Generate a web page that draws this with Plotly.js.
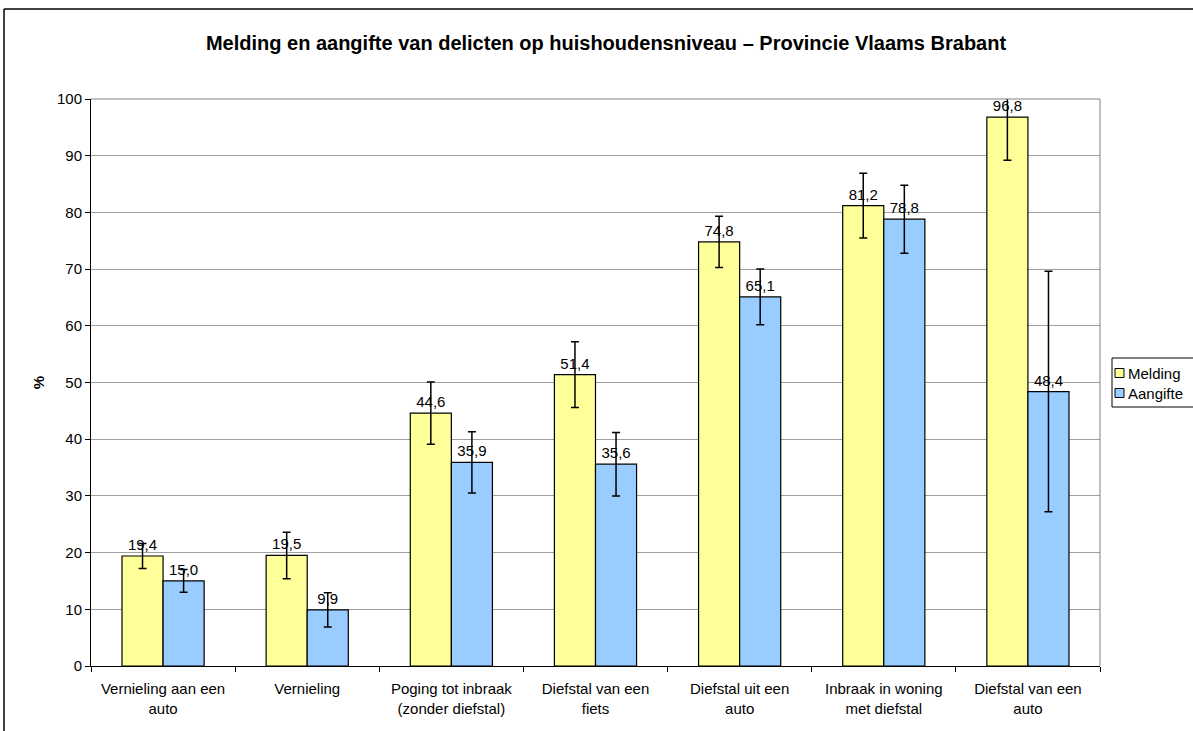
<!DOCTYPE html>
<html>
<head>
<meta charset="utf-8">
<script src="https://cdn.plot.ly/plotly-3.0.1.min.js"></script>
<style>
  html, body { margin: 0; padding: 0; background: #fff; }
  #chart { width: 1193px; height: 731px; }
</style>
</head>
<body>
<div id="chart"></div>
<script>
const categories = [
  "Vernieling aan een<br>auto",
  "Vernieling",
  "Poging tot inbraak<br>(zonder diefstal)",
  "Diefstal van een<br>fiets",
  "Diefstal uit een<br>auto",
  "Inbraak in woning<br>met diefstal",
  "Diefstal van een<br>auto"
];
const seriesNames = ["Melding", "Aangifte"];
const seriesColors = ["#FFFF99", "#99CCFF"];
const meldingValues = [19.4, 19.5, 44.6, 51.4, 74.8, 81.2, 96.8];
const meldingErrPlus = [2.2, 4.1, 5.5, 5.8, 4.5, 5.7, 4.0];
const meldingErrMinus = [2.2, 4.1, 5.5, 5.8, 4.5, 5.7, 7.6];
const aangifteValues = [15.0, 9.9, 35.9, 35.6, 65.1, 78.8, 48.4];
const aangifteErr = [2.0, 3.0, 5.4, 5.6, 4.9, 6.0, 21.2];
const yTicks = [0, 10, 20, 30, 40, 50, 60, 70, 80, 90, 100];

const FONT = "Liberation Sans, Arial, sans-serif";

const common = {
  type: "bar",
  x: categories,
  texttemplate: "%{y:.1f}",
  textposition: "outside",
  cliponaxis: false,
  textfont: {family: FONT, size: 15, color: "#000"},
  hoverinfo: "y",
  showlegend: false
};

const traces = [
  Object.assign({}, common, {
    name: seriesNames[0],
    y: meldingValues,
    marker: {color: seriesColors[0], line: {color: "#000", width: 1.2}},
    error_y: {type: "data", symmetric: false, array: meldingErrPlus, arrayminus: meldingErrMinus,
              color: "#000", thickness: 1.5, width: 4}
  }),
  Object.assign({}, common, {
    name: seriesNames[1],
    y: aangifteValues,
    marker: {color: seriesColors[1], line: {color: "#000", width: 1.2}},
    error_y: {type: "data", array: aangifteErr, color: "#000", thickness: 1.5, width: 4}
  })
];

// Plot area in pixels: x 91..1100, y 99..666
const L = 91, R = 1100, T = 99, B = 666;
const px = v => (v - L) / (R - L);
const py = v => (B - v) / (B - T);

// Manual legend (box partly outside the picture, as in the reference)
const legendShapes = [
  {type: "rect", xref: "paper", yref: "paper", x0: px(1112), x1: px(1260), y0: py(407), y1: py(358),
   line: {color: "#000", width: 1}, fillcolor: "#fff", layer: "above"}
];
const legendAnnots = [];
seriesNames.forEach((name, i) => {
  const cy = 373 + i * 20;
  legendShapes.push({type: "rect", xref: "paper", yref: "paper",
    x0: px(1115), x1: px(1124), y0: py(cy + 4.5), y1: py(cy - 4.5),
    line: {color: "#000", width: 1}, fillcolor: seriesColors[i], layer: "above"});
  legendAnnots.push({xref: "paper", yref: "paper", x: px(1126), y: py(cy), xanchor: "left", yanchor: "middle",
    text: name, showarrow: false, font: {family: FONT, size: 15, color: "#000"}});
});

const layout = {
  width: 1193,
  height: 731,
  margin: {l: L, r: 1193 - R, t: T, b: 731 - B, autoexpand: false},
  paper_bgcolor: "#fff",
  plot_bgcolor: "#fff",
  separators: ",.",
  font: {family: FONT, size: 15, color: "#000"},
  title: {
    text: "<b>Melding en aangifte van delicten op huishoudensniveau – Provincie Vlaams Brabant</b>",
    font: {family: FONT, size: 20, color: "#000"},
    x: 606 / 1193, xref: "container", xanchor: "center",
    y: 1 - 43 / 731, yref: "container", yanchor: "middle"
  },
  barmode: "group",
  bargap: 0.43,
  bargroupgap: 0,
  xaxis: {
    type: "category",
    tickson: "boundaries",
    ticks: "outside",
    ticklen: 5,
    tickcolor: "#000",
    ticklabelstandoff: 9,
    showline: true,
    linecolor: "#000",
    linewidth: 1,
    showgrid: false,
    tickfont: {family: FONT, size: 15, color: "#000"},
    automargin: false
  },
  yaxis: {
    range: [0, 100],
    tickvals: yTicks,
    ticks: "outside",
    ticklen: 5,
    tickcolor: "#000",
    showline: true,
    linecolor: "#000",
    linewidth: 1,
    showgrid: true,
    gridcolor: "#a0a0a0",
    gridwidth: 1,
    zeroline: false,
    tickfont: {family: FONT, size: 15, color: "#000"},
    title: {text: "<b>%</b>", font: {family: FONT, size: 15, color: "#000"}, standoff: 8},
    automargin: false
  },
  showlegend: false,
  annotations: legendAnnots,
  shapes: [
    {type: "line", xref: "paper", yref: "paper", x0: 0, x1: 1, y0: 1, y1: 1,
     line: {color: "#808080", width: 1}},
    {type: "line", xref: "paper", yref: "paper", x0: 1, x1: 1, y0: 0, y1: 1,
     line: {color: "#808080", width: 1}},
    {type: "line", xref: "paper", yref: "paper", x0: px(4), x1: px(1300), y0: py(9), y1: py(9),
     line: {color: "#000", width: 1.5}},
    {type: "line", xref: "paper", yref: "paper", x0: px(4), x1: px(4), y0: py(800), y1: py(9),
     line: {color: "#000", width: 1.5}}
  ].concat(legendShapes)
};

Plotly.newPlot("chart", traces, layout, {displayModeBar: false, staticPlot: true});
</script>
</body>
</html>
